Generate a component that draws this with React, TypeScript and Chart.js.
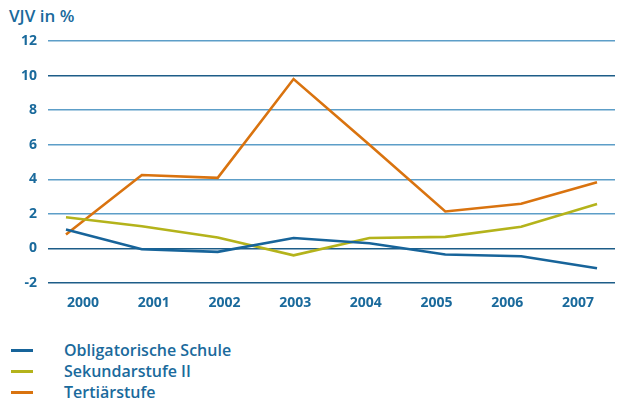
import React, { useEffect, useRef } from "react";
import { Chart, registerables } from "chart.js";

Chart.register(...registerables);

const years = ["2000", "2001", "2002", "2003", "2004", "2005", "2006", "2007"];
const obligatorisch = [1.1, -0.05, -0.2, 0.6, 0.3, -0.35, -0.45, -1.15];
const sekundar = [1.8, 1.28, 0.63, -0.4, 0.6, 0.67, 1.25, 2.57];
const tertiaer = [0.8, 4.25, 4.08, 9.8, 6.0, 2.14, 2.58, 3.83];
const seriesNames = ["Obligatorische Schule", "Sekundarstufe II", "Tertiärstufe"];
const seriesColors = ["#17649a", "#b4b31b", "#d9730f"];
const yTicks = [-2, 0, 2, 4, 6, 8, 10, 12];
const darkGridValues = [10, 0, -2];

const textColor = "#1a6a9c";
const fontFamily = "'Open Sans', 'Noto Sans', sans-serif";

export default function App() {
  const ref = useRef<HTMLCanvasElement | null>(null);

  useEffect(() => {
    document.body.style.margin = "0";
    const toPts = (arr: number[]) => arr.map((v, i) => ({ x: i, y: v }));
    const chart = new Chart(ref.current!, {
      type: "line",
      data: {
        datasets: [obligatorisch, sekundar, tertiaer].map((arr, i) => ({
          label: seriesNames[i],
          data: toPts(arr),
          borderColor: seriesColors[i],
          backgroundColor: seriesColors[i],
          borderWidth: 2.6,
          pointRadius: 0,
          tension: 0,
          xAxisID: "x",
          yAxisID: "y",
        })),
      },
      options: {
        animation: false,
        responsive: false,
        layout: { padding: { top: 41, right: 3, left: 0, bottom: 0 } },
        plugins: { legend: { display: false }, tooltip: { enabled: false }, title: { display: false } },
        scales: {
          x: {
            type: "linear",
            display: false,
            min: -0.237,
            max: 7.237,
          },
          xl: {
            type: "linear",
            position: "bottom",
            min: -0.495,
            max: 7.523,
            grid: { display: false, drawTicks: false },
            border: { display: false },
            afterBuildTicks: (axis: any) => {
              axis.ticks = years.map((_, i) => ({ value: i }));
            },
            afterFit: (axis: any) => {
              axis.height = 47;
            },
            ticks: {
              autoSkip: false,
              maxRotation: 0,
              padding: 12,
              color: textColor,
              font: { family: fontFamily, size: 14, weight: "bold" },
              callback: (v: any) => years[Math.round(Number(v))] ?? "",
            },
          },
          y: {
            type: "linear",
            min: -2,
            max: 12,
            afterBuildTicks: (axis: any) => {
              axis.ticks = yTicks.map((v) => ({ value: v }));
            },
            afterFit: (axis: any) => {
              axis.width = 48;
            },
            border: { display: false },
            grid: {
              drawTicks: false,
              lineWidth: 1.5,
              color: (ctx: any) =>
                darkGridValues.includes(ctx.tick?.value) ? "#1d5d88" : "#5d9ec8",
            },
            ticks: {
              padding: 11,
              color: textColor,
              font: { family: fontFamily, size: 14, weight: "bold" },
              callback: (v: any) => String(v),
            },
          },
        },
      } as any,
    });
    return () => chart.destroy();
  }, []);

  return (
    <div style={{ position: "relative", width: 618, height: 403, background: "#fff", fontFamily }}>
      <div
        style={{
          position: "absolute",
          left: 9,
          top: 4,
          fontSize: 17,
          fontWeight: 600,
          color: textColor,
        }}
      >
        VJV in %
      </div>
      <canvas ref={ref} width={618} height={330} style={{ position: "absolute", left: 0, top: 0 }} />
      <div style={{ position: "absolute", left: 0, top: 340 }}>
        {seriesNames.map((n, i) => (
          <div key={n} style={{ display: "flex", alignItems: "center", height: 21 }}>
            <div style={{ width: 22, height: 3, background: seriesColors[i], marginLeft: 11 }} />
            <div
              style={{
                marginLeft: 31,
                fontSize: 16,
                fontWeight: 600,
                color: textColor,
                lineHeight: "21px",
              }}
            >
              {n}
            </div>
          </div>
        ))}
      </div>
    </div>
  );
}
